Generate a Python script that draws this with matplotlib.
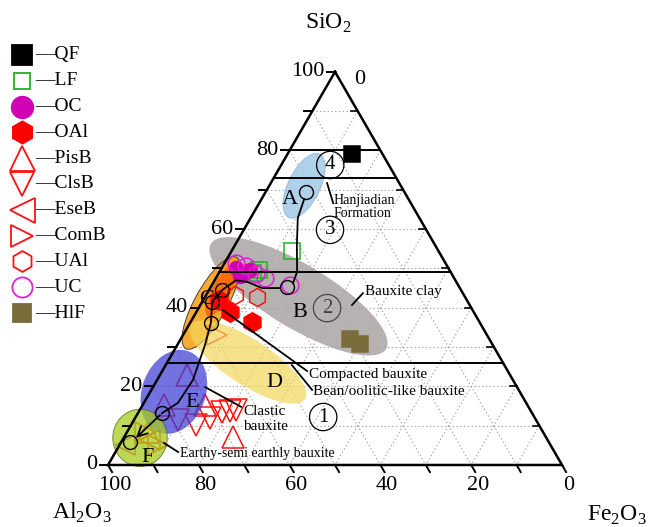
import numpy as np
import matplotlib
matplotlib.use("Agg")
import matplotlib.pyplot as plt
from matplotlib.patches import Ellipse

plt.rcParams["font.family"] = ["Liberation Serif", "DejaVu Serif"]
plt.rcParams["mathtext.fontset"] = "custom"
plt.rcParams["mathtext.rm"] = "Liberation Serif"

# sample compositions as (SiO2, Al2O3, Fe2O3), %
qf_pts = [(79.1, 6.7, 14.2)]
lf_pts = [(54.4, 32.3, 13.3), (48.8, 43.7, 7.5), (49.6, 42.0, 8.4)]
oc_pts = [(50.1, 46.8, 3.1), (48.8, 45.6, 5.6), (49.6, 43.9, 6.5), (48.1, 46.9, 5.0)]
oal_pts = [(38.9, 53.7, 7.4), (36.4, 50.1, 13.5), (42.0, 54.5, 3.5)]
pisb_pts = [(7.1, 68.9, 24.0), (22.9, 71.2, 5.9), (15.3, 80.0, 4.7),
            (15.3, 71.0, 13.7), (8.4, 87.0, 4.6)]
clsb_pts = [(10.2, 75.5, 14.3), (12.0, 71.5, 16.5), (13.5, 68.2, 18.3),
            (13.7, 66.3, 20.0), (14.0, 64.8, 21.2), (11.4, 78.9, 9.7)]
eseb_pts = [(5.1, 93.7, 1.2), (6.4, 87.6, 6.0)]
comb_pts = [(33.1, 59.4, 7.5), (5.1, 86.4, 8.5), (8.4, 87.7, 3.9)]
ual_pts = [(43.2, 50.4, 6.4), (42.7, 45.8, 11.5)]
uc_pts = [(51.4, 46.1, 2.5), (50.6, 44.3, 5.1), (48.6, 43.1, 8.3),
          (47.6, 41.6, 10.8), (45.8, 37.0, 17.2)]
hlf_pts = [(32.0, 30.7, 37.3), (30.8, 29.1, 40.1)]

# evolution path and its nodes
path_upper = [(67.6, 23.0, 9.4), (62.8, 26.8, 10.4), (56.0, 30.4, 13.6),
              (49.1, 33.8, 17.1), (46.3, 36.1, 17.6)]
path_lower = [(45.0, 39.6, 15.4), (45.0, 43.6, 11.4), (46.5, 45.9, 7.6),
              (47.0, 48.3, 4.7), (44.5, 52.6, 2.9), (41.5, 56.3, 2.2),
              (36.1, 59.3, 4.6), (30.5, 63.4, 6.1), (21.6, 70.5, 7.9),
              (15.8, 76.7, 7.5), (13.2, 81.5, 5.3)]
arrow_end = (6.4, 91.1, 2.5)
path_nodes = [(69.4, 21.7, 8.9), (45.3, 37.9, 16.8), (44.5, 52.6, 2.9),
              (41.5, 56.3, 2.2), (36.1, 59.3, 4.6), (13.2, 81.5, 5.3),
              (5.9, 92.2, 1.9)]

# SiO2 boundaries of the zones 1-4
zone_sio2 = [80, 73, 49, 26]

zone_letters = ["A", "B", "C", "D", "E", "F"]
zone_letter_pos = [(67.4, 26.2, 6.4), (38.9, 38.3, 22.8), (42.0, 57.2, 0.8),
                   (20.9, 52.8, 26.3), (15.8, 73.6, 10.6), (1.8, 90.3, 7.9)]
zone_nums = ["1", "2", "3", "4"]
zone_num_pos = [(12.2, 46.5, 41.3), (39.9, 31.8, 28.3),
                (59.8, 21.2, 19.0), (76.3, 12.9, 10.8)]

note_texts = ["Hanjiadian\nFormation", "Bauxite clay", "Compacted bauxite",
              "Bean/oolitic-like bauxite", "Clastic\nbauxite",
              "Earthy-semi earthly bauxite"]
note_pos = [(65.6, 17.6, 16.8), (44.0, 21.4, 34.6), (23.1, 44.2, 32.7),
            (18.6, 45.5, 35.9), (11.7, 64.4, 23.9), (2.8, 82.7, 14.5)]
note_from = [(71.7, 15.9, 12.4), (40.7, 25.9, 33.4), (39.4, 55.0, 5.6),
             (25.4, 46.8, 27.8), (19.8, 68.7, 11.5), (5.6, 84.9, 9.5)]
note_to = [(66.6, 17.1, 16.3), (43.7, 22.0, 34.3), (23.9, 44.2, 31.9),
           (19.1, 45.5, 35.4), (14.8, 63.3, 21.9), (3.3, 82.9, 13.8)]

R3 = np.sqrt(3) / 2


def tern(pts):
    p = np.atleast_2d(np.array(pts, dtype=float))
    s, a, f = p[:, 0], p[:, 1], p[:, 2]
    tot = s + a + f
    return (f + s / 2) / tot * 100, s / tot * 100 * R3


fig = plt.figure(figsize=(6.52, 5.27), dpi=100)
ax = fig.add_axes([0, 0, 1, 1])
ax.set_xlim(-23.79, 119.82)
ax.set_ylim(-13.66, 102.42)
ax.axis("off")

# dotted grid
for v in range(10, 100, 10):
    for a, b in [((v, 100 - v, 0), (v, 0, 100 - v)),
                 ((100 - v, v, 0), (0, v, 100 - v)),
                 ((100 - v, 0, v), (0, 100 - v, v))]:
        x, y = tern([a, b])
        ax.plot(x, y, color="#a0a0a0", lw=0.8, ls=(0, (1.2, 2.2)), zorder=0.5)

# triangle frame
x, y = tern([(100, 0, 0), (0, 100, 0), (0, 0, 100), (100, 0, 0)])
ax.plot(x, y, color="black", lw=1.8, zorder=5, solid_joinstyle="miter")

for s in zone_sio2:
    x, y = tern([(s, 100 - s, 0), (s, 0, 100 - s)])
    ax.plot(x, y, color="black", lw=1.4, zorder=5)

# ticks and labels
tl = 1.8
for v in range(0, 101, 10):
    x, y = tern([(v, 100 - v, 0)])
    ax.plot([x[0], x[0] - tl], [y[0], y[0]], color="black", lw=1.4, zorder=5)
    if v % 20 == 0:
        ax.text(x[0] - tl - 0.6, y[0], str(v), ha="right", va="center", fontsize=16)
    x, y = tern([(0, v, 100 - v)])
    ax.plot([x[0], x[0] + tl * 0.5], [y[0], y[0] - tl * R3], color="black", lw=1.4, zorder=5)
    if v % 20 == 0:
        ax.text(x[0] + 1.5, y[0] - tl * R3 - 0.8, str(v), ha="center", va="top", fontsize=16)
    x, y = tern([(100 - v, 0, v)])
    if 0 < v < 100:
        ax.plot([x[0], x[0] - tl * 0.8], [y[0], y[0]], color="black", lw=1.2, zorder=5)

x, y = tern([(100, 0, 0)])
ax.text(x[0] + 5.5, y[0] - 1.8, "0", ha="center", va="center", fontsize=16)
ax.text(x[0] - 1.5, y[0] + 10.6, "SiO$_2$", ha="center", va="center", fontsize=17)
x, y = tern([(0, 100, 0)])
ax.text(x[0] - 5.7, y[0] - 10.6, "Al$_2$O$_3$", ha="center", va="center", fontsize=17)
x, y = tern([(0, 0, 100)])
ax.text(x[0] + 12.1, y[0] - 11.0, "Fe$_2$O$_3$", ha="center", va="center", fontsize=17)

# field ellipses: centre, long axis, short axis, angle, colour, alpha, z, edge
fields = [
    ((42.9, 36.6, 20.5), 45, 14, -31, "#aba5a5", 0.85, 1, "none"),
    ((71.0, 21.3, 7.7), 15.5, 7.0, 64, "#a2c9e7", 0.85, 1, "#8fb5d6"),
    ((41.2, 56.7, 2.1), 23, 7.2, 61, "#f7a21b", 0.9, 1.2, "#333333"),
    ((44.5, 52.7, 2.8), 13, 4.2, 61, "#ff6000", 0.8, 1.3, "none"),
    ((26.2, 56.1, 17.7), 30, 10, -33, "#f2d65a", 0.7, 3, "none"),
    ((18.6, 76.2, 5.2), 19, 14, 70, "#3c3cd6", 0.72, 3, "none"),
    ((6.9, 89.5, 3.6), 12, 12.6, 0, "#a6cc1e", 0.75, 3, "#556b10"),
]
for c, w, h, ang, col, al, z, ec in fields:
    x, y = tern([c])
    e = Ellipse((x[0], y[0]), w, h, angle=ang, facecolor=col, alpha=al,
                edgecolor=ec, lw=0.7, zorder=z)
    ax.add_patch(e)

# sample series: label, points, marker, face, edge, plot size, legend size
series = [
    ("QF", qf_pts, "s", "black", "black", 12, 14),
    ("LF", lf_pts, "s", "none", "#22b022", 12, 11),
    ("OC", oc_pts, "o", "#d000b4", "#d000b4", 10, 15.5),
    ("OAl", oal_pts, "h", "#ff0000", "#ff0000", 14, 16),
    ("PisB", pisb_pts, "^", "none", "#ff1010", 16, 18),
    ("ClsB", clsb_pts, "v", "none", "#ff1010", 16, 17),
    ("EseB", eseb_pts, "<", "none", "#ff1010", 14, 18),
    ("ComB", comb_pts, ">", "none", "#ff1010", 14, 16),
    ("UAl", ual_pts, "h", "none", "#ff1010", 13, 15),
    ("UC", uc_pts, "o", "none", "#e020d8", 12, 14.5),
    ("HlF", hlf_pts, "s", "#7b6c3c", "#7b6c3c", 12, 13),
]
for name, pts, mk, fc, ec, ms, _ in series:
    x, y = tern(pts)
    ax.plot(x, y, ls="none", marker=mk, ms=ms, mfc=fc, mec=ec, mew=1.1, zorder=2)

# evolution path
x, y = tern(path_upper)
ax.plot(x, y, color="black", lw=1.3, zorder=4)
x, y = tern(path_lower)
ax.plot(x, y, color="black", lw=1.3, zorder=4)
xs, ys = tern([path_lower[-1], arrow_end])
ax.annotate("", xy=(xs[1], ys[1]), xytext=(xs[0], ys[0]),
            arrowprops=dict(arrowstyle="->,head_length=0.7,head_width=0.35",
                            color="black", lw=1.3), zorder=4)
x, y = tern(path_nodes)
ax.plot(x, y, ls="none", marker="o", ms=10, mfc="none", mec="black", mew=1.0, zorder=4)

for t, p in zip(zone_letters, zone_letter_pos):
    x, y = tern([p])
    ax.text(x[0], y[0], t, ha="center", va="center", fontsize=16, zorder=6)

for t, p in zip(zone_nums, zone_num_pos):
    x, y = tern([p])
    col = "#444444" if t == "2" else "black"
    ax.text(x[0], y[0], t, ha="center", va="center", fontsize=15, color=col, zorder=6,
            bbox=dict(boxstyle="circle,pad=0.2", fc="none", ec=col, lw=0.9))

for t, p, a, b in zip(note_texts, note_pos, note_from, note_to):
    x, y = tern([p])
    fs = 10 if ("Hanjiadian" in t or "Earthy" in t) else 11
    ls = 1.0 if "Hanjiadian" in t else 1.15
    ax.text(x[0], y[0], t, ha="left", va="center", fontsize=fs, linespacing=ls, zorder=6)
    x, y = tern([a, b])
    ax.plot(x, y, color="black", lw=1.3, zorder=6)

# legend drawn by hand
for i, (name, pts, mk, fc, ec, ms, lms) in enumerate(series):
    yy = 1 - (55 + i * 25.8) / 527
    ax.plot([22 / 652], [yy], transform=ax.transAxes, marker=mk, ms=lms,
            mfc=fc, mec=ec, mew=1.3, ls="none", clip_on=False)
    ax.text(35 / 652, yy, "\u2014" + name, transform=ax.transAxes,
            ha="left", va="center", fontsize=14)

fig.savefig("out.png", dpi=100)
